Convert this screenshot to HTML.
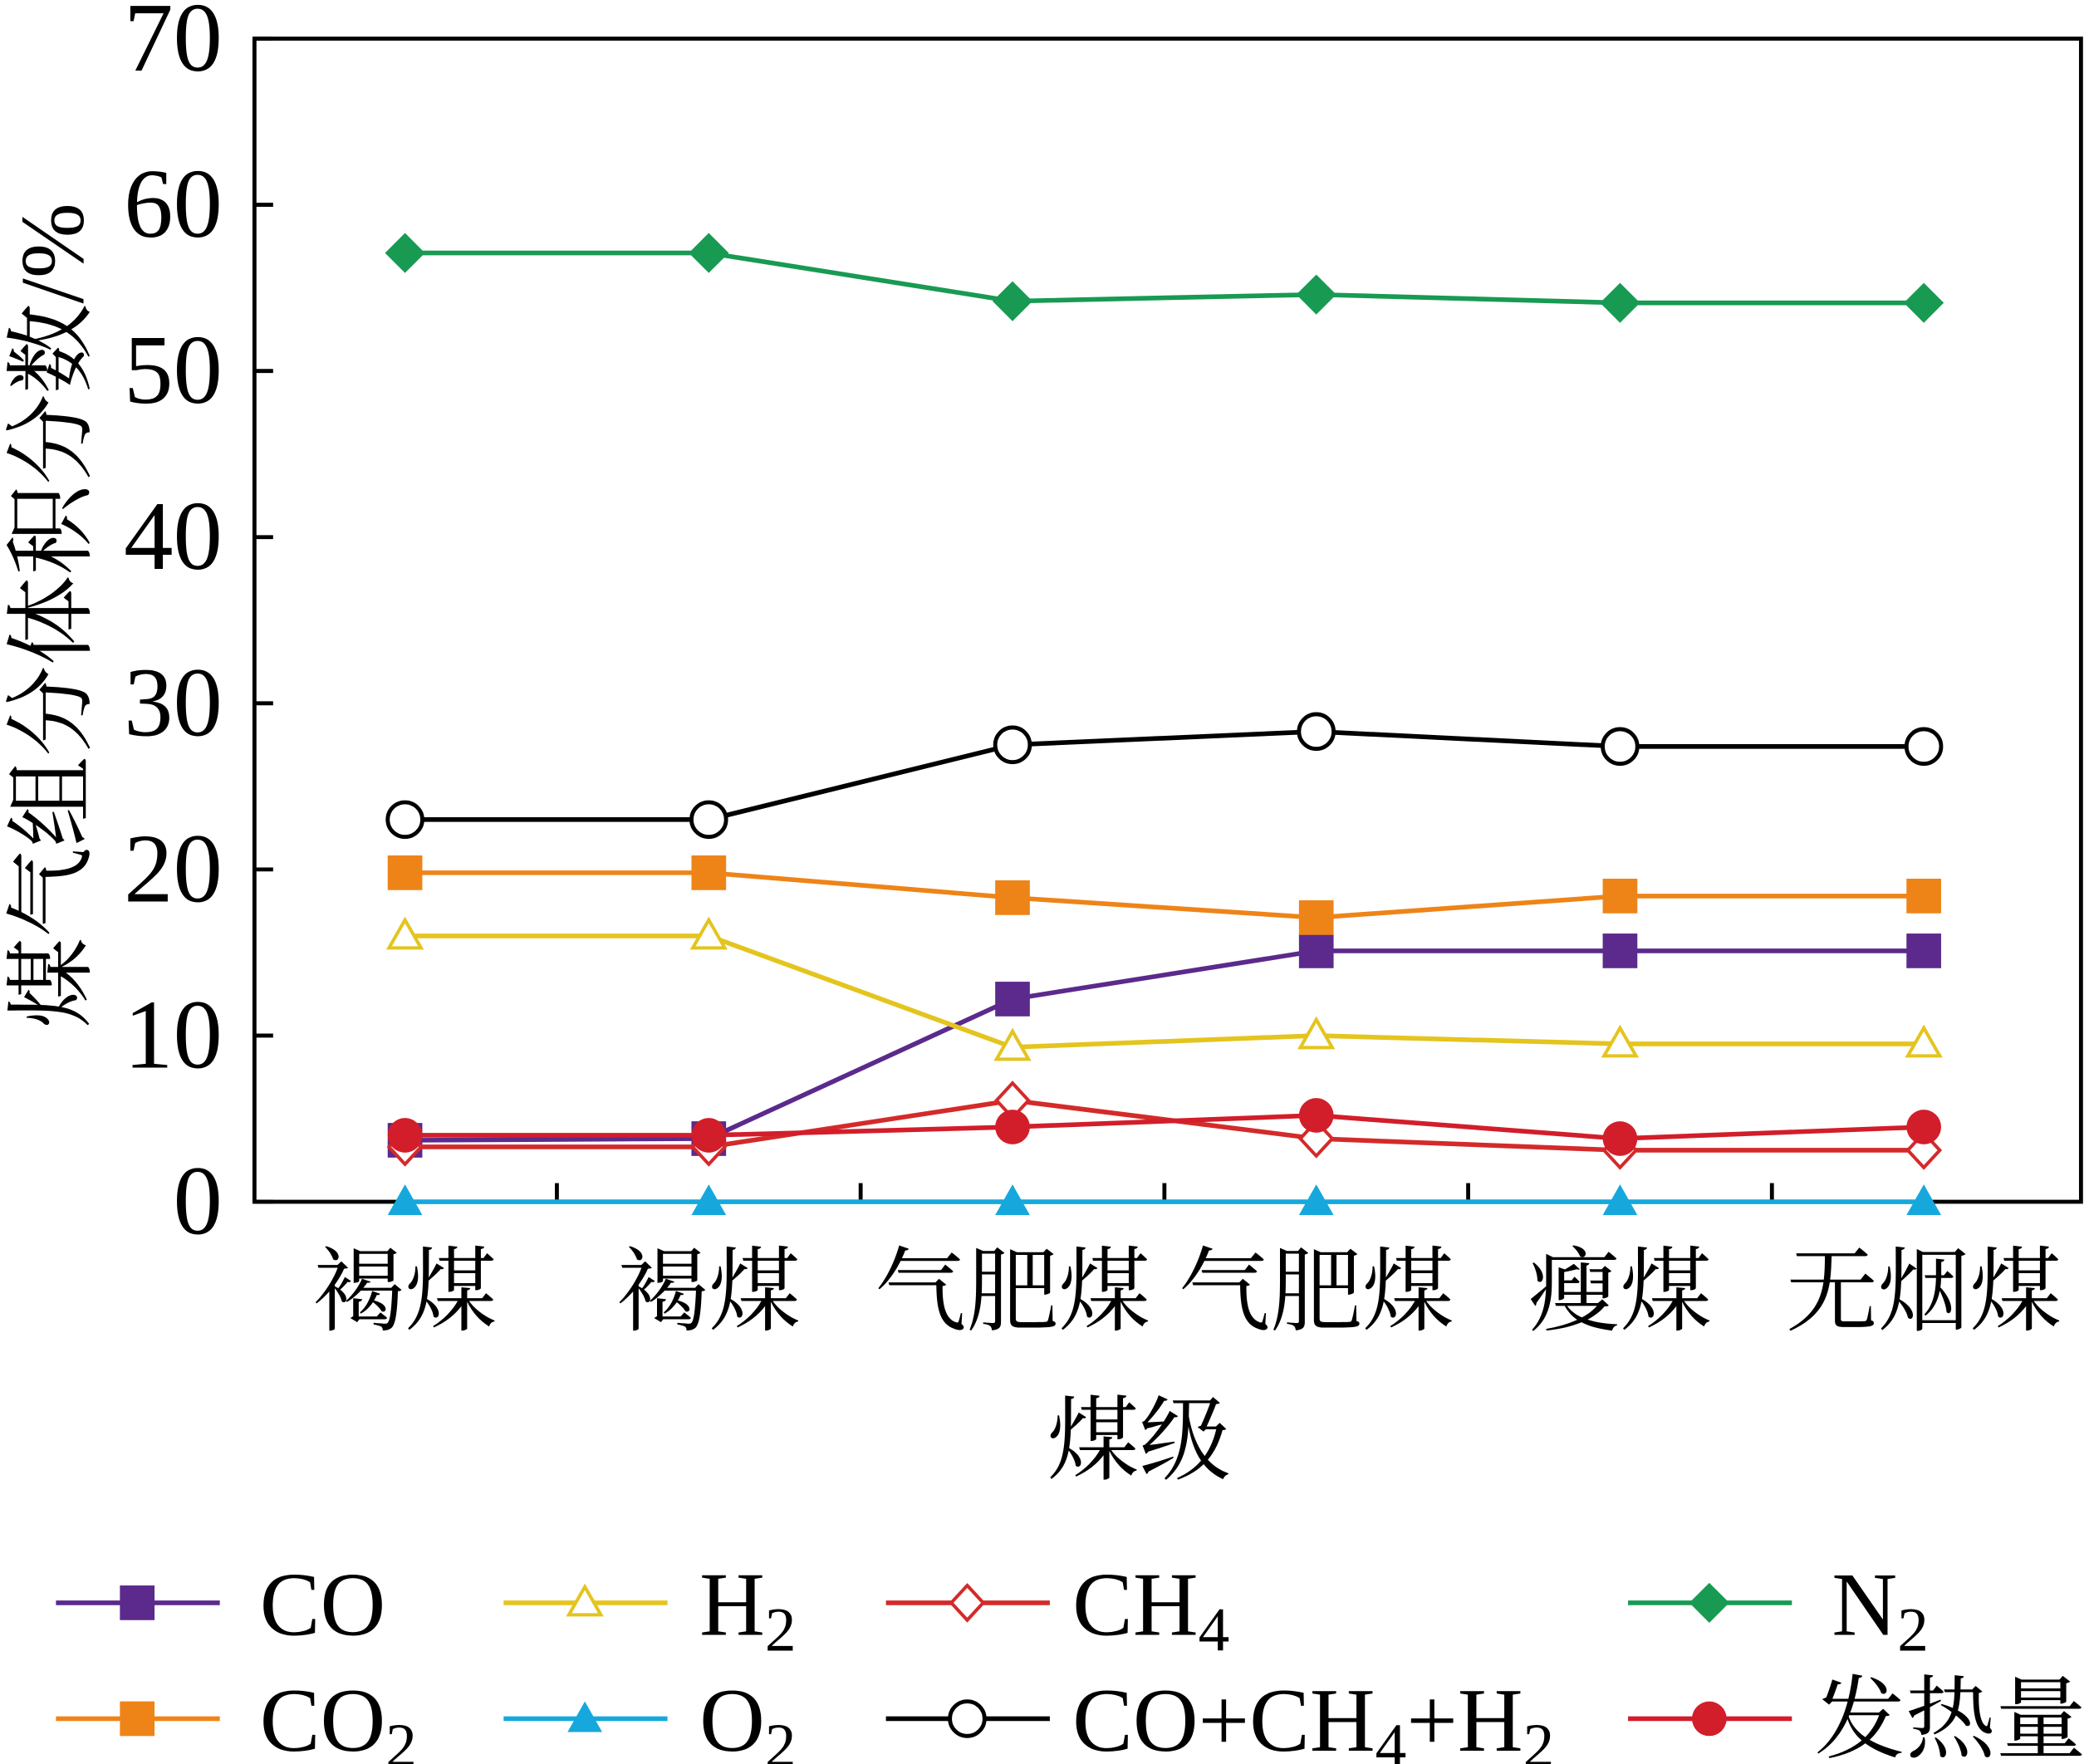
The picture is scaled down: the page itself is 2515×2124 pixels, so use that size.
<!DOCTYPE html>
<html><head><meta charset="utf-8"><style>
html,body{margin:0;padding:0;background:#fff}
svg{display:block}
text{font-family:"Liberation Serif","Noto Serif CJK SC",serif;fill:#000}
</style></head><body>
<svg id="chart" width="2515" height="2124" viewBox="0 0 1568 1324" preserveAspectRatio="none" xmlns="http://www.w3.org/2000/svg">
<g id="axes"></g><g id="series"></g><g id="legend"></g>
</svg>
<script>
const categories=["褐煤","褐煤","气肥煤","气肥煤","瘦煤","无烟煤"];
const yTicks=[0,10,20,30,40,50,60,70];
const coVals=[3.7,3.8,12.2,15.1,15.1,15.1];
const co2Vals=[19.8,19.8,18.3,17.1,18.4,18.4];
const h2Vals=[16.0,16.0,9.3,10.0,9.5,9.5];
const ch4Vals=[3.3,3.3,6.1,3.8,3.1,3.1];
const o2Vals=[0,0,0,0,0,0];
const n2Vals=[57.1,57.1,54.2,54.6,54.1,54.1];
const sumVals=[23.0,23.0,27.5,28.3,27.4,27.4];
const heatVals=[4.0,4.0,4.5,5.2,3.8,4.5];

const NS="http://www.w3.org/2000/svg";
const L=191,R=1562,T=29,B=902;
const x=i=>304+i*228;
const y=v=>B-(v/70)*(B-T);
function mk(tag,attrs,parent,txt){const e=document.createElementNS(NS,tag);for(const k in attrs)e.setAttribute(k,attrs[k]);if(txt!==undefined)e.textContent=txt;parent.appendChild(e);return e;}
const axes=document.getElementById('axes');
const frame=mk('rect',{x:L,y:T,width:R-L,height:B-T,fill:'none',stroke:'#000','stroke-width':3},axes);


yTicks.forEach(v=>{
  const t=mk('line',{x1:L,x2:L+14,y1:y(v),y2:y(v),stroke:'#000','stroke-width':3},axes);
  
  
  const lb=mk('text',{x:L-24,y:y(v)+24,'text-anchor':'end','font-size':74},axes,String(v));
  
  
});
for(let i=0;i<categories.length-1;i++){
  const tx=(x(i)+x(i+1))/2;
  const t=mk('line',{x1:tx,x2:tx,y1:B,y2:B-14,stroke:'#000','stroke-width':3},axes);
  
  
}
categories.forEach((c,i)=>{
  const lb=mk('text',{x:x(i),y:993,'text-anchor':'middle','font-size':69},axes,c);
  
  
});
const xt=mk('text',{x:855,y:1105,'text-anchor':'middle','font-size':69},axes,'煤级');


const yt=mk('text',{x:0,y:0,'text-anchor':'middle','font-size':68,transform:'translate(62,462) rotate(-90)'},axes,'煤气组分体积分数/%');



function marker(g,type,cx,cy,color){
  let e;
  if(type==='sq') e=mk('rect',{x:cx-13,y:cy-13,width:26,height:26,fill:color},g);
  else if(type==='tri') e=mk('polygon',{points:`${cx},${cy-13} ${cx-13},${cy+10} ${cx+13},${cy+10}`,fill:color},g);
  else if(type==='otri') e=mk('polygon',{points:`${cx},${cy-12} ${cx-12},${cy+9} ${cx+12},${cy+9}`,fill:'#fff',stroke:color,'stroke-width':2.5},g);
  else if(type==='odia') e=mk('polygon',{points:`${cx},${cy-13} ${cx+12},${cy} ${cx},${cy+13} ${cx-12},${cy}`,fill:'#fff',stroke:color,'stroke-width':2.5},g);
  else if(type==='dia') e=mk('polygon',{points:`${cx},${cy-15} ${cx+15},${cy} ${cx},${cy+15} ${cx-15},${cy}`,fill:color},g);
  else if(type==='ocir') e=mk('circle',{cx,cy,r:13,fill:'#fff',stroke:color,'stroke-width':3},g);
  else e=mk('circle',{cx,cy,r:13,fill:color},g);
  
  
}
const seriesList=[
 {name:'CO',vals:coVals,color:'#5b2a8c',m:'sq'},
 {name:'CO2',vals:co2Vals,color:'#ee8418',m:'sq'},
 {name:'H2',vals:h2Vals,color:'#e4c41e',m:'otri'},
 {name:'CH4',vals:ch4Vals,color:'#d42a2a',m:'odia'},
 {name:'O2',vals:o2Vals,color:'#16a8dc',m:'tri'},
 {name:'N2',vals:n2Vals,color:'#189a52',m:'dia'},
 {name:'sum',vals:sumVals,color:'#000',m:'ocir'},
 {name:'heat',vals:heatVals,color:'#d21e2a',m:'cir'}
];
const sg=document.getElementById('series');
seriesList.forEach(s=>{
  const g=mk('g',{},sg);
  
  
  const pl=mk('polyline',{points:s.vals.map((v,i)=>x(i)+','+y(v)).join(' '),fill:'none',stroke:s.color,'stroke-width':3.5},g);
  
  
  s.vals.forEach((v,i)=>marker(g,s.m,x(i),y(v),s.color));
});
const lg=document.getElementById('legend');
const entries=[
 [0,42,1203,195,'CO',''],[2,378,1203,525,'H','2'],[3,665,1203,805,'CH','4'],[5,1222,1203,1375,'N','2'],
 [1,42,1290,195,'CO','2'],[4,378,1290,525,'O','2'],[6,665,1290,805,'CO+CH4+H2',''],[7,1222,1290,1362,'发热量','']
];
entries.forEach(e=>{
  const s=seriesList[e[0]];
  const g=mk('g',{},lg);
  
  
  mk('line',{x1:e[1],x2:e[1]+123,y1:e[2],y2:e[2],stroke:s.color,'stroke-width':3.5},g);
  marker(g,s.m,e[1]+61,e[2],s.color);
  const t=mk('text',{x:e[3],y:e[2]+24,'font-size':68},g);
  if(e[4]==='CO+CH4+H2'){
    t.innerHTML='CO+CH<tspan dy="12" font-size="47">4</tspan><tspan dy="-12">+H</tspan><tspan dy="12" font-size="47">2</tspan>';
  } else {
    t.textContent=e[4];
    if(e[5]){mk('tspan',{dy:12,'font-size':47},t,e[5]);}
  }
  
  
});
</script>
</body></html>
